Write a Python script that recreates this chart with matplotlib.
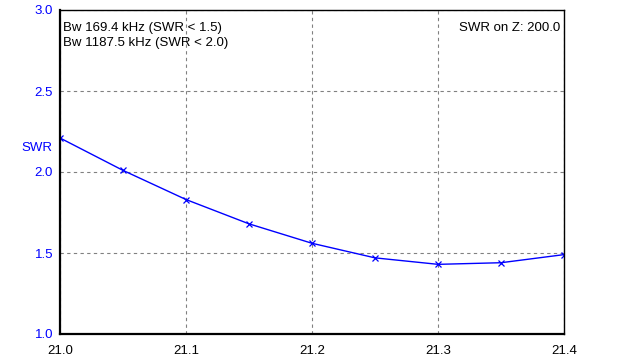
import matplotlib
matplotlib.use("Agg")
import matplotlib.pyplot as plt

# frequency (MHz) and SWR
freq = [21.0, 21.05, 21.1, 21.15, 21.2, 21.25, 21.3, 21.35, 21.4]
swr = [2.21, 2.01, 1.83, 1.68, 1.56, 1.47, 1.43, 1.44, 1.49]
xticks = [21.0, 21.1, 21.2, 21.3, 21.4]
yticks = [1.0, 1.5, 2.0, 2.5, 3.0]

plt.rcParams['font.family'] = ['Liberation Sans', 'DejaVu Sans']
plt.rcParams['font.size'] = 9.5

fig = plt.figure(figsize=(6.24, 3.64), dpi=100)
ax = fig.add_axes([60 / 624, 30 / 364, 504 / 624, 324 / 364])

ax.plot(freq, swr, color='blue', linewidth=1, marker='x', markersize=4.5,
        markeredgewidth=0.9)

ax.set_xlim(21.0, 21.4)
ax.set_ylim(1.0, 3.0)
ax.set_xticks(xticks)
ax.set_yticks(yticks)
ax.set_xticklabels(['%.1f' % v for v in xticks])
ax.set_yticklabels(['%.1f' % v for v in yticks], color='blue')
ax.tick_params(axis='both', length=0, labelsize=9.5)
ax.tick_params(axis='x', pad=8)
ax.tick_params(axis='y', pad=5)
ax.grid(color='gray', linestyle=(0, (3, 3)), linewidth=0.8)

for side in ['left', 'bottom']:
    ax.spines[side].set_linewidth(1.6)
for side in ['top', 'right']:
    ax.spines[side].set_linewidth(1.0)

ax.text(-0.046, 0.575, 'SWR', transform=ax.transAxes, color='blue',
        fontsize=9.5, ha='center', va='center')
ax.text(0.006, 0.963, 'Bw 169.4 kHz (SWR < 1.5)\nBw 1187.5 kHz (SWR < 2.0)',
        transform=ax.transAxes, ha='left', va='top', fontsize=9.5,
        linespacing=1.3)
ax.text(0.993, 0.963, 'SWR on Z: 200.0', transform=ax.transAxes,
        ha='right', va='top', fontsize=9.5)

fig.savefig('out.png', dpi=100)
